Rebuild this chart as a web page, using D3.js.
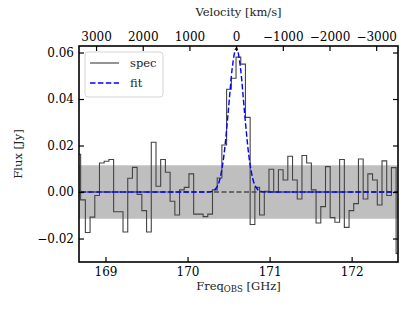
<!DOCTYPE html>
<html>
<head>
<meta charset="utf-8">
<script src="https://cdn.jsdelivr.net/npm/d3@7"></script>
<style>
body { margin: 0; background: #fff; }
text { font-family: "DejaVu Serif", serif; }
</style>
</head>
<body>
<div id="chart-area"></div>
<script>
// channel centres (GHz) and flux (Jy)
var freq = [168.668, 168.726, 168.783, 168.841, 168.898, 168.955, 169.013, 169.070, 169.128, 169.185,
  169.242, 169.300, 169.357, 169.414, 169.472, 169.529, 169.587, 169.644, 169.701, 169.759,
  169.816, 169.874, 169.931, 169.988, 170.046, 170.103, 170.161, 170.218, 170.275, 170.333,
  170.390, 170.447, 170.505, 170.562, 170.620, 170.677, 170.734, 170.792, 170.849, 170.907,
  170.964, 171.021, 171.079, 171.136, 171.193, 171.251, 171.308, 171.366, 171.423, 171.480,
  171.538, 171.595, 171.653, 171.710, 171.767, 171.825, 171.882, 171.940, 171.997, 172.054,
  172.112, 172.169, 172.226, 172.284, 172.341, 172.399, 172.456, 172.513, 172.571];
var flux = [0.0162, -0.0034, -0.0174, -0.0108, -0.0015, 0.0125, 0.0132, 0.0140, -0.0085, -0.0085,
  -0.0172, 0.0059, 0.0106, -0.0010, -0.0080, -0.0172, 0.0214, 0.0025, 0.0140, 0.0085,
  -0.0040, -0.0099, 0.0009, 0.0020, 0.0078, -0.0095, -0.0095, -0.0106, -0.0095, 0.0009,
  0.0060, 0.0202, 0.0442, 0.0489, 0.0580, 0.0550, 0.0321, -0.0140, 0.0020, -0.0099,
  0.0003, 0.0098, 0.0000, 0.0096, 0.0052, 0.0154, 0.0052, -0.0030, 0.0157, 0.0125,
  0.0009, -0.0133, -0.0063, 0.0109, -0.0110, -0.0130, 0.0140, -0.0152, -0.0080, -0.0050,
  0.0142, -0.0030, 0.0078, 0.0052, -0.0056, 0.0134, -0.0015, 0.0105, -0.0264];

// gaussian fit
var fitFreq = [168.600, 170.245, 170.295, 170.345, 170.395, 170.445, 170.495, 170.545, 170.595,
  170.645, 170.695, 170.745, 170.795, 170.845, 170.895, 170.945, 172.700];
var fitFlux = [0, 0, 0.0003, 0.0015, 0.0057, 0.0162, 0.0341, 0.0534, 0.0620,
  0.0534, 0.0341, 0.0162, 0.0057, 0.0015, 0.0003, 0, 0];

var rms = 0.0115;
var freqTicks = [169, 170, 171, 172];
var fluxTicks = [-0.02, 0.00, 0.02, 0.04, 0.06];
var velTicks = [3000, 2000, 1000, 0, -1000, -2000, -3000];
var restFreq = 170.592;
var cLight = 299792.458;

var margin = {top: 46, right: 17, bottom: 49, left: 79};
var width = 415 - margin.left - margin.right;
var height = 311 - margin.top - margin.bottom;

var svg = d3.select("#chart-area").append("svg")
  .attr("width", 415)
  .attr("height", 311);

var group = svg.append("g")
  .attr("transform", "translate(" + margin.left + "," + margin.top + ")");

var x = d3.scaleLinear().domain([168.677, 172.565]).range([0, width]);
var y = d3.scaleLinear().domain([-0.0301, 0.0628]).range([height, 0]);
var v = d3.scaleLinear()
  .domain([(restFreq - 168.677) / restFreq * cLight, (restFreq - 172.565) / restFreq * cLight])
  .range([0, width]);

var minus = (s) => s.replace("-", "\u2212");

svg.append("defs").append("clipPath").attr("id", "clip")
  .append("rect").attr("width", width).attr("height", height);

var plot = group.append("g").attr("clip-path", "url(#clip)");

// noise band
plot.append("rect")
  .attr("x", 0)
  .attr("width", width)
  .attr("y", y(rms))
  .attr("height", y(-rms) - y(rms))
  .attr("fill", "#bfbfbf");

// zero line
plot.append("line")
  .attr("x1", 0).attr("x2", width)
  .attr("y1", y(0)).attr("y2", y(0))
  .attr("stroke", "#000")
  .attr("stroke-width", 0.9)
  .attr("stroke-dasharray", "5,2.5");

var spec = freq.map((f, i) => ({f: f, s: flux[i]}));
plot.append("path")
  .datum(spec)
  .attr("fill", "none")
  .attr("stroke", "#444")
  .attr("stroke-width", 1.1)
  .attr("d", d3.line().curve(d3.curveStep).x((d) => x(d.f)).y((d) => y(d.s)));

var fit = fitFreq.map((f, i) => ({f: f, s: fitFlux[i]}));
plot.append("path")
  .datum(fit)
  .attr("fill", "none")
  .attr("stroke", "#0000ff")
  .attr("stroke-width", 1.4)
  .attr("stroke-dasharray", "5.5,2.4")
  .attr("d", d3.line().curve(d3.curveMonotoneX).x((d) => x(d.f)).y((d) => y(d.s)));

// axes, ticks pointing inwards
var bottomAxis = d3.axisBottom(x).tickValues(freqTicks).tickFormat(d3.format("d"))
  .tickSizeInner(-5).tickSizeOuter(0).tickPadding(5);
group.append("g").attr("class", "bottom axis")
  .attr("transform", "translate(0," + height + ")")
  .call(bottomAxis);

var leftAxis = d3.axisLeft(y).tickValues(fluxTicks)
  .tickFormat((d) => minus(d3.format(".2f")(d)))
  .tickSizeInner(-5).tickSizeOuter(0).tickPadding(5);
group.append("g").attr("class", "left axis").call(leftAxis);

var rightAxis = d3.axisRight(y).tickValues(fluxTicks).tickFormat("")
  .tickSizeInner(-5).tickSizeOuter(0);
group.append("g").attr("class", "right axis")
  .attr("transform", "translate(" + width + ",0)")
  .call(rightAxis);

var topAxis = d3.axisTop(v).tickValues(velTicks)
  .tickFormat((d) => minus(d3.format("d")(d)))
  .tickSizeInner(-5).tickSizeOuter(0).tickPadding(5);
group.append("g").attr("class", "top axis").call(topAxis);

group.selectAll(".axis .domain").remove();
group.selectAll(".axis line").attr("stroke", "#000").attr("stroke-width", 1.2);
group.selectAll(".axis text")
  .attr("font-family", "DejaVu Serif")
  .attr("font-size", "12px")
  .attr("fill", "#000");

group.append("rect")
  .attr("width", width).attr("height", height)
  .attr("fill", "none")
  .attr("stroke", "#000")
  .attr("stroke-width", 1.6);

// axis labels
svg.append("text")
  .attr("transform", "translate(22," + (margin.top + height / 2) + ") rotate(-90)")
  .attr("text-anchor", "middle")
  .attr("font-size", "11.5px")
  .attr("fill", "#222")
  .text("Flux [Jy]");

svg.append("text")
  .attr("x", margin.left + width / 2)
  .attr("y", 16)
  .attr("text-anchor", "middle")
  .attr("font-size", "11.5px")
  .attr("fill", "#222")
  .text("Velocity [km/s]");

var xl = svg.append("text")
  .attr("x", margin.left + width / 2)
  .attr("y", 290)
  .attr("text-anchor", "middle")
  .attr("font-size", "11.5px")
  .attr("fill", "#222");
xl.append("tspan").text("Freq");
xl.append("tspan").attr("font-size", "8.5px").attr("dy", 2).text("OBS");
xl.append("tspan").attr("dy", -2).text(" [GHz]");

// legend
var legend = group.append("g").attr("transform", "translate(6,6)");
legend.append("rect")
  .attr("width", 78).attr("height", 45)
  .attr("rx", 3)
  .attr("fill", "#fff").attr("fill-opacity", 0.8)
  .attr("stroke", "#d5d5d5");
var items = [
  {label: "spec", color: "#666", dash: null},
  {label: "fit", color: "#0000ff", dash: "5.5,2.4"}
];
items.forEach((d, i) => {
  var gy = 11 + i * 20;
  legend.append("line")
    .attr("x1", 5).attr("x2", 34)
    .attr("y1", gy).attr("y2", gy)
    .attr("stroke", d.color)
    .attr("stroke-width", 1.4)
    .attr("stroke-dasharray", d.dash);
  legend.append("text")
    .attr("x", 45).attr("y", gy + 4)
    .attr("font-size", "11.5px")
    .attr("fill", "#222")
    .text(d.label);
});
</script>
</body>
</html>
